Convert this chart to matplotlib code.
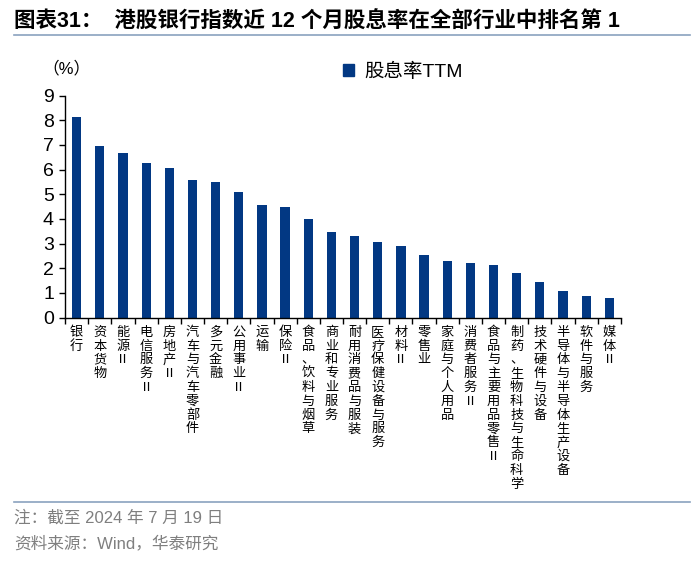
import numpy as np
import matplotlib
matplotlib.use('Agg')
import matplotlib.pyplot as plt
from matplotlib.patches import Patch

plt.rcParams['font.family'] = ['Liberation Sans', 'Noto Sans CJK SC', 'DejaVu Sans']

industries = ['银行', '资本货物', '能源Ⅱ', '电信服务Ⅱ', '房地产Ⅱ', '汽车与汽车零部件',
              '多元金融', '公用事业Ⅱ', '运输', '保险Ⅱ', '食品、饮料与烟草', '商业和专业服务',
              '耐用消费品与服装', '医疗保健设备与服务', '材料Ⅱ', '零售业', '家庭与个人用品',
              '消费者服务Ⅱ', '食品与主要用品零售Ⅱ', '制药、生物科技与生命科学', '技术硬件与设备',
              '半导体与半导体生产设备', '软件与服务', '媒体Ⅱ']
dividend_yield = [8.11, 6.97, 6.66, 6.25, 6.05, 5.59, 5.48, 5.10, 4.57, 4.49, 4.01, 3.45,
                  3.30, 3.07, 2.91, 2.52, 2.31, 2.21, 2.11, 1.79, 1.45, 1.06, 0.87, 0.81]
series_name = '股息率TTM'
yticks = list(range(0, 10))

bar_color = '#023883'
line_color = '#8aa2bf'
grey = '#7f7f7f'

fig = plt.figure(figsize=(7, 5.62), dpi=100)
ax = fig.add_axes([0.093, 0.435, 0.794, 0.395])

x = np.arange(len(industries))
ax.bar(x, dividend_yield, width=0.4, color=bar_color)

ax.set_xlim(-0.5, len(industries) - 0.5)
ax.set_ylim(0, 9)
ax.set_yticks(yticks)
ax.set_yticklabels([str(v) for v in yticks], fontsize=14)

# vertical stacked labels
ax.set_xticks(x)
ax.set_xticklabels(['\n'.join(s) for s in industries], fontsize=9.5,
                   family=['Noto Sans CJK SC'], linespacing=1.08, va='top')
ax.tick_params(axis='x', which='major', length=0, pad=6)
ax.set_xticks(np.arange(-0.5, len(industries)), minor=True)
ax.tick_params(axis='x', which='minor', length=4, width=1, direction='out')
ax.tick_params(axis='y', length=4, width=1, direction='out', pad=4)

for s in ['top', 'right']:
    ax.spines[s].set_visible(False)
for s in ['left', 'bottom']:
    ax.spines[s].set_linewidth(1)

fig.text(0.06, 0.878, '（%）', fontsize=12, ha='left', va='center')

handle = Patch(facecolor=bar_color, edgecolor=bar_color)
fig.legend([handle], [series_name], loc='center', bbox_to_anchor=(0.575, 0.872),
           frameon=False, fontsize=14, handlelength=0.6, handleheight=0.6,
           handletextpad=0.5)

fig.text(0.02, 0.961, '图表31：  港股银行指数近 12 个月股息率在全部行业中排名第 1',
         fontsize=15.5, fontweight='bold', ha='left', va='center')
fig.add_artist(plt.Line2D([0.02, 0.985], [0.938, 0.938], color=line_color, lw=1.2,
                          transform=fig.transFigure))
fig.add_artist(plt.Line2D([0.02, 0.985], [0.107, 0.107], color=line_color, lw=1.2,
                          transform=fig.transFigure))
fig.text(0.02, 0.078, '注：截至 2024 年 7 月 19 日', fontsize=12, color=grey,
         ha='left', va='center')
fig.text(0.02, 0.034, '资料来源：Wind，华泰研究', fontsize=12, color=grey,
         ha='left', va='center')

fig.savefig('out.png', dpi=100)
